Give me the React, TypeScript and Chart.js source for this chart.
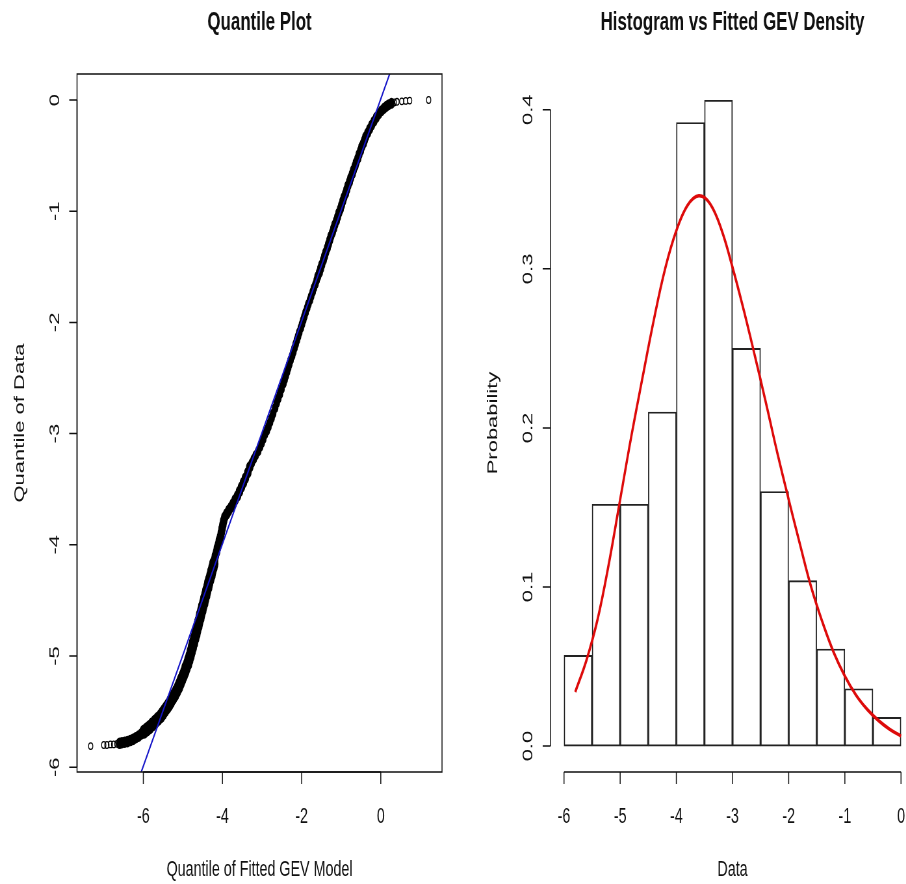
import React, { useEffect, useRef } from "react";
import { Chart, registerables } from "chart.js";

Chart.register(...registerables);

// ---------------- data ----------------

// Quantile plot: fitted GEV quantiles (x) against sorted sample quantiles (y)
const qqModelQuantiles = [
  -7.33, -7.0, -6.92, -6.83, -6.75, -6.67, -6.6,
  -6.54, -6.47, -6.4, -6.33, -6.26, -6.19, -6.12, -6.05,
  -5.98, -5.91, -5.84, -5.77, -5.7, -5.63, -5.56,
  -5.51, -5.46, -5.41, -5.36, -5.31, -5.26, -5.21, -5.16, -5.11, -5.07,
  -5.03, -4.99, -4.95, -4.92, -4.88, -4.85, -4.82, -4.79, -4.76, -4.73, -4.7, -4.67,
  -4.65, -4.62, -4.6, -4.57, -4.55, -4.52, -4.5, -4.47, -4.45, -4.42, -4.4, -4.37, -4.35, -4.32, -4.29, -4.27, -4.24, -4.22,
  -4.2, -4.18, -4.15, -4.13, -4.1, -4.08, -4.05, -4.03, -4.01, -3.99, -3.97, -3.94,
  -3.89, -3.84, -3.78, -3.73, -3.68, -3.62, -3.57, -3.52, -3.47, -3.42, -3.36, -3.31,
  -3.26, -3.21, -3.16, -3.1, -3.05, -3.01, -2.97, -2.93, -2.88, -2.84, -2.8, -2.76, -2.72, -2.67, -2.63, -2.59, -2.55, -2.51, -2.46,
  -2.43, -2.4, -2.37, -2.34, -2.31, -2.28, -2.24, -2.21, -2.18, -2.15, -2.12, -2.09, -2.06, -2.02, -1.99, -1.96, -1.93, -1.9,
  -1.86, -1.83, -1.79, -1.76, -1.72, -1.69, -1.65, -1.62, -1.59, -1.55, -1.52, -1.49, -1.45, -1.42, -1.39, -1.35, -1.32, -1.29,
  -1.26, -1.22, -1.19, -1.16, -1.12, -1.09, -1.06, -1.02, -0.99, -0.96, -0.93, -0.89, -0.86, -0.83,
  -0.79, -0.76, -0.72, -0.69, -0.65, -0.62, -0.58, -0.55, -0.51, -0.48, -0.44, -0.41, -0.38,
  -0.33, -0.28, -0.23, -0.17, -0.11, -0.05, 0.02, 0.08, 0.14, 0.2, 0.27,
  0.34, 0.41, 0.53, 0.63, 0.73, 1.21,
];

const qqDataQuantiles = [
  -5.81, -5.8, -5.8, -5.795, -5.795, -5.79, -5.785,
  -5.78, -5.775, -5.77, -5.76, -5.75, -5.735, -5.72, -5.7,
  -5.68, -5.66, -5.64, -5.615, -5.59, -5.565, -5.54,
  -5.515, -5.49, -5.465, -5.44, -5.41, -5.38, -5.35, -5.315, -5.28, -5.245,
  -5.21, -5.175, -5.14, -5.105, -5.07, -5.035, -5.0, -4.96, -4.92, -4.88, -4.84, -4.8,
  -4.765, -4.73, -4.695, -4.66, -4.625, -4.59, -4.555, -4.52, -4.485, -4.45, -4.415, -4.38, -4.345, -4.31, -4.275, -4.24, -4.205, -4.17,
  -4.135, -4.1, -4.065, -4.03, -3.995, -3.96, -3.925, -3.89, -3.855, -3.82, -3.785, -3.75,
  -3.72, -3.69, -3.66, -3.63, -3.595, -3.56, -3.52, -3.48, -3.44, -3.4, -3.35, -3.3,
  -3.265, -3.23, -3.195, -3.16, -3.12, -3.085, -3.05, -3.01, -2.975, -2.94, -2.9, -2.86, -2.82, -2.77, -2.725, -2.685, -2.645, -2.6, -2.55,
  -2.515, -2.48, -2.445, -2.41, -2.375, -2.34, -2.3, -2.265, -2.23, -2.195, -2.16, -2.125, -2.09, -2.05, -2.015, -1.98, -1.945, -1.91,
  -1.87, -1.835, -1.8, -1.765, -1.725, -1.69, -1.655, -1.62, -1.585, -1.55, -1.515, -1.48, -1.44, -1.405, -1.37, -1.33, -1.295, -1.26,
  -1.225, -1.19, -1.155, -1.12, -1.085, -1.05, -1.015, -0.98, -0.945, -0.91, -0.875, -0.84, -0.805, -0.77,
  -0.735, -0.7, -0.665, -0.63, -0.595, -0.56, -0.525, -0.49, -0.455, -0.42, -0.39, -0.36, -0.33,
  -0.295, -0.26, -0.225, -0.19, -0.155, -0.125, -0.096, -0.075, -0.057, -0.042, -0.03,
  -0.022, -0.016, -0.012, -0.008, -0.005, 0.0,
];

// Reference line (data quantile = model quantile)
const refLineX = [-6.3, 0.45];
const refLineY = [-6.29, 0.46];

// Histogram: break points and density heights
const histBreaks = [-6, -5.5, -5, -4.5, -4, -3.5, -3, -2.5, -2, -1.5, -1, -0.5, 0];
const histDensity = [0.057, 0.152, 0.152, 0.21, 0.392, 0.406, 0.25, 0.16, 0.104, 0.061, 0.036, 0.018];

// Fitted GEV density curve
const gevX = [
  -5.8, -5.6, -5.4, -5.2, -5.0, -4.8, -4.6, -4.4, -4.2, -4.0, -3.8, -3.6, -3.4, -3.2, -3.0,
  -2.8, -2.6, -2.4, -2.2, -2.0, -1.8, -1.6, -1.4, -1.2, -1.0, -0.8, -0.6, -0.4, -0.2, 0.0,
];
const gevDensity = [
  0.034, 0.054, 0.08, 0.115, 0.155, 0.195, 0.232, 0.268, 0.3, 0.324, 0.34, 0.346, 0.341, 0.325, 0.301,
  0.274, 0.245, 0.215, 0.184, 0.155, 0.127, 0.1, 0.078, 0.059, 0.044, 0.032, 0.023, 0.016, 0.0105, 0.0063,
];

// Axis ticks
const qqTicksX = [-6, -4, -2, 0];
const qqTicksY = [-6, -5, -4, -3, -2, -1, 0];
const histTicksX = [-6, -5, -4, -3, -2, -1, 0];
const histTicksY = [0, 0.1, 0.2, 0.3, 0.4];

// ---------------- drawing ----------------

const SQUEEZE = 0.65; // horizontal display scale of the figure canvases
const HEIGHT = 884;
const INK = "#111";
const FONT = '"Liberation Sans", Arial, Helvetica, sans-serif';
const TICK = 12;

type FrameSpec = {
  title: string;
  xLabel: string;
  yLabel: string;
  xTicks: number[];
  yTicks: number[];
  yFmt: (v: number) => string;
  box: boolean;
};

function framePlugin(spec: FrameSpec) {
  return {
    id: "rFrame",
    afterDraw(chart: any) {
      const { ctx, chartArea: a, scales } = chart;
      const xs = scales.x;
      const ys = scales.y;
      ctx.save();
      ctx.strokeStyle = INK;
      ctx.fillStyle = INK;
      ctx.lineWidth = 1.5;

      if (spec.box) {
        ctx.strokeRect(a.left, a.top, a.right - a.left, a.bottom - a.top);
      }

      // bottom axis
      const xp = spec.xTicks.map((v) => xs.getPixelForValue(v));
      ctx.beginPath();
      ctx.moveTo(xp[0], a.bottom);
      ctx.lineTo(xp[xp.length - 1], a.bottom);
      xp.forEach((p) => {
        ctx.moveTo(p, a.bottom);
        ctx.lineTo(p, a.bottom + TICK);
      });
      ctx.stroke();
      ctx.font = `22px ${FONT}`;
      ctx.textAlign = "center";
      ctx.textBaseline = "alphabetic";
      spec.xTicks.forEach((v, i) => ctx.fillText(String(v), xp[i], a.bottom + 51));

      // left axis
      const yp = spec.yTicks.map((v) => ys.getPixelForValue(v));
      ctx.beginPath();
      ctx.moveTo(a.left, yp[0]);
      ctx.lineTo(a.left, yp[yp.length - 1]);
      yp.forEach((p) => {
        ctx.moveTo(a.left, p);
        ctx.lineTo(a.left - TICK, p);
      });
      ctx.stroke();
      spec.yTicks.forEach((v, i) => {
        ctx.save();
        ctx.translate(a.left - 28, yp[i]);
        ctx.rotate(-Math.PI / 2);
        ctx.fillText(spec.yFmt(v), 0, 0);
        ctx.restore();
      });

      // axis titles
      const cx = (a.left + a.right) / 2;
      const cy = (a.top + a.bottom) / 2;
      ctx.fillText(spec.xLabel, cx, a.bottom + 104);
      ctx.save();
      ctx.translate(a.left - 82, cy);
      ctx.rotate(-Math.PI / 2);
      ctx.fillText(spec.yLabel, 0, 0);
      ctx.restore();

      // main title
      ctx.font = `bold 26px ${FONT}`;
      ctx.fillText(spec.title, cx, a.top - 44);
      ctx.restore();
    },
  };
}

// Over-plotted circles merge into a solid band where the sample is dense;
// isolated tail points keep the thin open-circle look.
function isTail(x: number): boolean {
  return x < -6.62 || x > 0.3;
}
function qqRadius(x: number): number {
  if (isTail(x)) return 3.3;
  if (x < -6.0) return 5.0;
  if (x < -4.2) return 6.4;
  if (x < -3.3) return 5.0;
  if (x < -1.6) return 4.3;
  return 4.7;
}

const baseOptions = {
  responsive: false,
  animation: false as const,
  devicePixelRatio: 1,
  events: [] as any[],
  plugins: {
    legend: { display: false },
    tooltip: { enabled: false },
    title: { display: false },
  },
};

export default function App() {
  const qqRef = useRef<HTMLCanvasElement | null>(null);
  const histRef = useRef<HTMLCanvasElement | null>(null);

  useEffect(() => {
    const qqPoints = qqModelQuantiles.map((x, i) => ({ x, y: qqDataQuantiles[i] }));
    const refPoints = refLineX.map((x, i) => ({ x, y: refLineY[i] }));

    const qqChart = new Chart(qqRef.current!, {
      type: "scatter",
      data: {
        datasets: [
          {
            data: refPoints,
            showLine: true,
            borderColor: "#1414c8",
            borderWidth: 2,
            pointRadius: 0,
            order: 0,
          } as any,
          {
            data: qqPoints,
            pointStyle: "circle",
            pointRadius: (c: any) => qqRadius(c.raw.x),
            pointBorderWidth: (c: any) => (isTail(c.raw.x) ? 1.3 : 1.6),
            pointBorderColor: "#000",
            pointBackgroundColor: (c: any) => (isTail(c.raw.x) ? "rgba(0,0,0,0)" : "#000"),
            order: 1,
          } as any,
        ],
      },
      options: {
        ...baseOptions,
        layout: { padding: { left: 118.5, right: 17, top: 74, bottom: 112 } },
        scales: {
          x: { type: "linear", min: -7.675, max: 1.547, display: false },
          y: { type: "linear", min: -6.043, max: 0.234, display: false },
        },
      } as any,
      plugins: [
        framePlugin({
          title: "Quantile Plot",
          xLabel: "Quantile of Fitted GEV Model",
          yLabel: "Quantile of Data",
          xTicks: qqTicksX,
          yTicks: qqTicksY,
          yFmt: (v) => String(v),
          box: true,
        }),
      ],
    });

    const bars = histDensity.map((d, i) => ({
      x: (histBreaks[i] + histBreaks[i + 1]) / 2,
      y: d,
    }));
    const curve = gevX.map((x, i) => ({ x, y: gevDensity[i] }));

    const histChart = new Chart(histRef.current!, {
      type: "bar",
      data: {
        datasets: [
          {
            type: "line",
            data: curve,
            borderColor: "#dd0a0a",
            borderWidth: 3.5,
            pointRadius: 0,
            tension: 0.4,
            order: 0,
          } as any,
          {
            type: "bar",
            data: bars,
            backgroundColor: "rgba(255,255,255,0)",
            borderColor: "#222",
            borderWidth: 1.2,
            borderSkipped: false,
            barPercentage: 1,
            categoryPercentage: 1,
            order: 1,
          } as any,
        ],
      },
      options: {
        ...baseOptions,
        layout: { padding: { left: 150, right: 10, top: 74, bottom: 112 } },
        scales: {
          x: { type: "linear", min: -6.24, max: 0.24, display: false, offset: false },
          y: { type: "linear", min: -0.0163, max: 0.4225, display: false },
        },
      } as any,
      plugins: [
        framePlugin({
          title: "Histogram vs Fitted GEV Density",
          xLabel: "Data",
          yLabel: "Probability",
          xTicks: histTicksX,
          yTicks: histTicksY,
          yFmt: (v) => v.toFixed(1),
          box: false,
        }),
      ],
    });

    return () => {
      qqChart.destroy();
      histChart.destroy();
    };
  }, []);

  const canvasStyle = (left: number, width: number): React.CSSProperties => ({
    position: "absolute",
    left,
    top: 0,
    width,
    height: HEIGHT,
    transform: `scaleX(${SQUEEZE})`,
    transformOrigin: "0 0",
  });

  return (
    <div
      style={{
        position: "absolute",
        left: 0,
        top: 0,
        width: 906,
        height: HEIGHT,
        overflow: "hidden",
        background: "#fff",
      }}
    >
      <canvas ref={qqRef} width={697} height={HEIGHT} style={canvasStyle(0, 697)} />
      <canvas ref={histRef} width={720} height={HEIGHT} style={canvasStyle(453, 720)} />
    </div>
  );
}
